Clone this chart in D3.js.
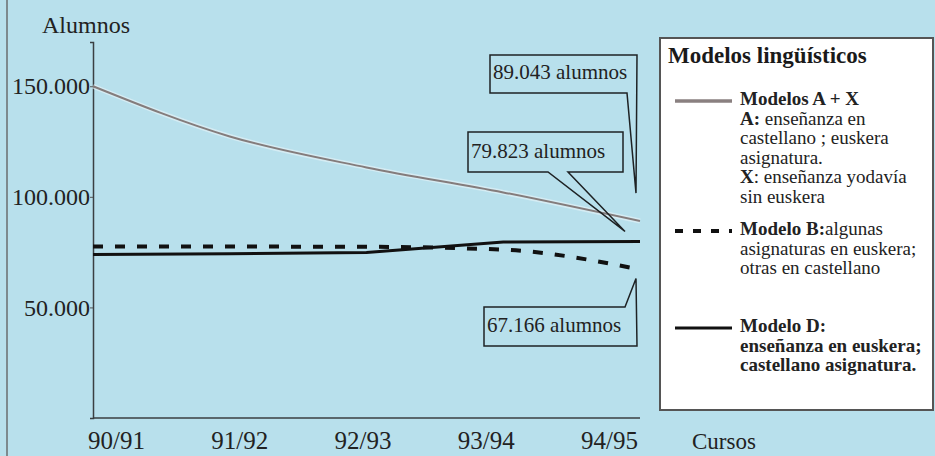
<!DOCTYPE html>
<html lang="es">
<head>
<meta charset="utf-8">
<script src="https://cdn.jsdelivr.net/npm/d3@7"></script>
<style>
  body { margin: 0; background: #b8e0ec; }
  svg { display: block; font-family: "Liberation Serif", "Times New Roman", serif; }
</style>
</head>
<body>
<div id="chart"></div>
<script>
// Cursos escolares
const cursos = ["90/91", "91/92", "92/93", "93/94", "94/95"];
// Alumnos por modelo lingüístico
const modeloAX = [150000, 127300, 113300, 102000, 89043];
const modeloB = [77500, 77500, 77400, 76100, 67166];
const modeloD = [73900, 74300, 74800, 79600, 79823];
// Marcas del eje vertical
const yTicks = [50000, 100000, 150000];

// Textos de la leyenda: [negrita, normal]
const legendAX = [["Modelos A + X", ""], ["A:", " enseñanza en"], ["", "castellano ; euskera"],
                  ["", "asignatura."], ["X", ": enseñanza yodavía"], ["", "sin euskera"]];
const legendB = [["Modelo B:", "algunas"], ["", "asignaturas en euskera;"], ["", "otras en castellano"]];
const legendD = [["Modelo D:", ""], ["enseñanza en euskera;", ""], ["castellano asignatura.", ""]];

const width = 935, height = 456;
const plot = { left: 93, right: 640, top: 42, bottom: 418 };

const es = d3.formatLocale({ decimal: ",", thousands: ".", grouping: [3], currency: ["", "€"] });
const fmt = es.format(",d");

const svg = d3.select("#chart").append("svg")
    .attr("width", width)
    .attr("height", height);

// Fondo
svg.append("rect")
    .attr("width", width).attr("height", height)
    .attr("fill", "#b8e0ec");

// Borde izquierdo
svg.append("line")
    .attr("x1", 7).attr("x2", 7).attr("y1", 0).attr("y2", height)
    .attr("stroke", "#7d8a8e").attr("stroke-width", 2);

// Escalas
const x = d3.scalePoint().domain(cursos).range([plot.left, plot.right]);
const xLabels = x.copy().range([116, 609]);
const y = d3.scaleLinear().domain([0, 170000]).range([plot.bottom, plot.top]);

// Eje Y
const yAxis = svg.append("g")
    .attr("transform", `translate(${plot.left},0)`)
    .call(d3.axisLeft(y).tickValues(yTicks).tickSize(3).tickPadding(0).tickFormat(fmt));
yAxis.select(".domain").attr("stroke", "#3a3f42").attr("stroke-width", 1.5);
yAxis.selectAll(".tick line").attr("stroke", "#555");
yAxis.selectAll("text")
    .attr("fill", "#222")
    .style("font-size", "24px")
    .style("font-family", "'Liberation Serif', serif");

// Eje X
svg.append("line")
    .attr("x1", x.range()[0]).attr("x2", x.range()[1])
    .attr("y1", y(0)).attr("y2", y(0))
    .attr("stroke", "#3a3f42").attr("stroke-width", 1.5);
const xAxis = svg.append("g")
    .attr("transform", `translate(0,${y(0)})`)
    .call(d3.axisBottom(xLabels).tickSize(0).tickPadding(13));
xAxis.select(".domain").remove();
xAxis.selectAll("text")
    .attr("fill", "#222")
    .style("font-size", "25px")
    .style("font-family", "'Liberation Serif', serif");

// Títulos de ejes
svg.append("text")
    .attr("x", 42).attr("y", 33)
    .attr("fill", "#222")
    .style("font-size", "24px")
    .text("Alumnos");
svg.append("text")
    .attr("x", 692).attr("y", 449)
    .attr("fill", "#222")
    .style("font-size", "23px")
    .text("Cursos");

// Líneas
const lineSmooth = d3.line().x((d, i) => x(cursos[i])).y(d => y(d)).curve(d3.curveMonotoneX);
const lineStraight = d3.line().x((d, i) => x(cursos[i])).y(d => y(d));

svg.append("path")
    .attr("d", lineSmooth(modeloAX))
    .attr("fill", "none").attr("stroke", "#e8f4f8").attr("stroke-width", 5).attr("opacity", 0.6);
svg.append("path")
    .attr("d", lineSmooth(modeloAX))
    .attr("fill", "none").attr("stroke", "#847c7c").attr("stroke-width", 2);

svg.append("path")
    .attr("d", lineStraight(modeloD))
    .attr("fill", "none").attr("stroke", "#111").attr("stroke-width", 3);

svg.append("path")
    .attr("d", lineSmooth(modeloB))
    .attr("fill", "none").attr("stroke", "#111").attr("stroke-width", 4)
    .attr("stroke-dasharray", "10,12");

// Llamadas con el último valor
const last = cursos[cursos.length - 1];
const endX = x(last);
const callouts = [
    { value: modeloAX[4], box: [490, 55, 637, 93], tail: "down-right", tip: [-4, -28], base: [627, 637] },
    { value: modeloD[4], box: [468, 132, 623, 172], tail: "down", tip: [-15, -10], base: [548, 568] },
    { value: modeloB[4], box: [484, 307, 637, 346], tail: "up-right", tip: [-4, 9], base: [625, 637] }
];

callouts.forEach(c => {
    const [x0, y0, x1, y1] = c.box;
    const tx = endX + c.tip[0], ty = y(c.value) + c.tip[1];
    let d;
    if (c.tail === "down-right") {
        d = `M${x0},${y0}H${x1}L${tx},${ty}L${c.base[0]},${y1}H${x0}Z`;
    } else if (c.tail === "down") {
        d = `M${x0},${y0}H${x1}V${y1}H${c.base[1]}L${tx},${ty}L${c.base[0]},${y1}H${x0}Z`;
    } else {
        d = `M${x0},${y0}H${c.base[0]}L${tx},${ty}L${x1},${y1}H${x0}Z`;
    }
    svg.append("path")
        .attr("d", d)
        .attr("fill", "none")
        .attr("stroke", "#1e2224")
        .attr("stroke-width", 1.5)
        .attr("stroke-linejoin", "miter");
    svg.append("text")
        .attr("x", x0 + 3)
        .attr("y", y1 - 14)
        .attr("fill", "#222")
        .style("font-size", "21px")
        .text(`${fmt(c.value)} alumnos`);
});

// Leyenda
const legend = svg.append("g");
legend.append("rect")
    .attr("x", 660).attr("y", 38).attr("width", 273).attr("height", 372)
    .attr("fill", "#fff").attr("stroke", "#555").attr("stroke-width", 2);
legend.append("text")
    .attr("x", 668).attr("y", 63)
    .attr("fill", "#1a1a1a")
    .style("font-size", "23px").style("font-weight", "bold")
    .text("Modelos lingüísticos");

const blocks = [
    { lines: legendAX, top: 105, stroke: "#8a8080", width: 3.5, dash: null },
    { lines: legendB, top: 235, stroke: "#111", width: 4, dash: "8,10" },
    { lines: legendD, top: 332, stroke: "#111", width: 3, dash: null }
];

blocks.forEach(b => {
    legend.append("line")
        .attr("x1", 675).attr("x2", 732)
        .attr("y1", b.top - 4).attr("y2", b.top - 4)
        .attr("stroke", b.stroke).attr("stroke-width", b.width)
        .attr("stroke-dasharray", b.dash);
    b.lines.forEach((ln, i) => {
        const t = legend.append("text")
            .attr("x", 740).attr("y", b.top + i * 19.6)
            .attr("fill", "#222")
            .style("font-size", "19px");
        if (ln[0]) t.append("tspan").style("font-weight", "bold").text(ln[0]);
        if (ln[1]) t.append("tspan").text(ln[1]);
    });
});
</script>
</body>
</html>
